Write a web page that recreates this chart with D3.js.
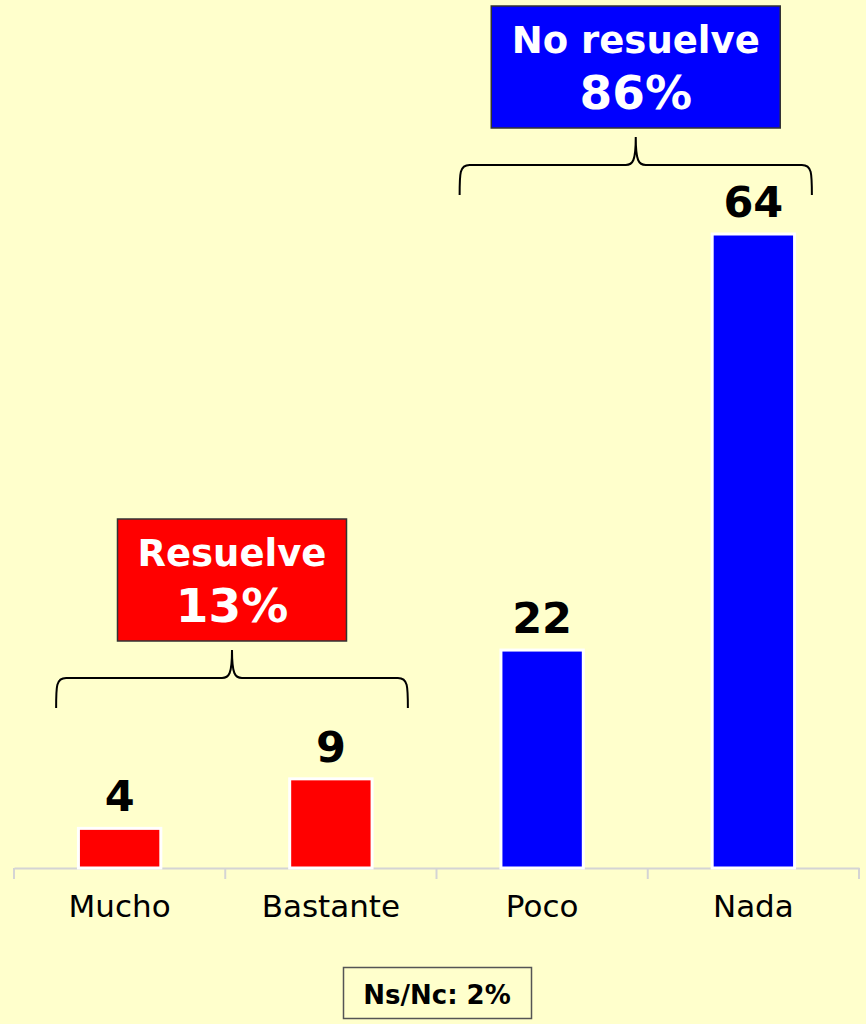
<!DOCTYPE html>
<html><head><meta charset="utf-8">
<script src="https://cdn.jsdelivr.net/npm/d3@7"></script>
<style>html,body{margin:0;padding:0;background:#ffffcc;}svg{display:block;font-family:"DejaVu Sans",sans-serif;}</style>
</head><body>
<script>
const categories = ["Mucho","Bastante","Poco","Nada"];
const values = [4, 9, 22, 64];
const colors = ["#ff0000","#ff0000","#0000ff","#0000ff"];
const groupTitles = ["Resuelve","No resuelve"];
const groupTotals = ["13%","86%"];
const groupColors = ["#ff0000","#0000ff"];
const groupMembers = [["Mucho","Bastante"],["Poco","Nada"]];
const footnote = "Ns/Nc: 2%";

const W = 866, H = 1024;
const svg = d3.select("body").append("svg").attr("width", W).attr("height", H);
svg.append("rect").attr("width", W).attr("height", H).attr("fill", "#ffffcc");

const x = d3.scaleBand().domain(categories).range([14, 859]).paddingInner(0.61).paddingOuter(0.305);
const xb = d3.scaleBand().domain(categories).range([14, 859]);
const y = d3.scaleLinear().domain([0, 64]).range([868, 234]);

// axis
const ax = svg.append("g").attr("transform", "translate(0,868)")
  .call(d3.axisBottom(xb).tickSize(0).tickPadding(0));
ax.select(".domain").attr("stroke", "#d4d4d4").attr("stroke-width", 2);
ax.selectAll(".tick text").remove();
const edges = categories.map(c => xb(c)).concat([xb.range()[1]]);
svg.append("g").selectAll("line").data(edges).join("line")
  .attr("x1", d => d).attr("x2", d => d).attr("y1", 868).attr("y2", 879)
  .attr("stroke", "#d4d4d4").attr("stroke-width", 2);

// category labels
svg.append("g").selectAll("text").data(categories).join("text")
  .attr("x", d => xb(d) + xb.bandwidth() / 2).attr("y", 917)
  .attr("text-anchor", "middle").attr("font-size", 31).attr("fill", "#000")
  .text(d => d);

// bars
svg.append("g").selectAll("rect").data(values).join("rect")
  .attr("x", (d, i) => x(categories[i])).attr("width", x.bandwidth())
  .attr("y", d => y(d)).attr("height", d => y(0) - y(d))
  .attr("fill", (d, i) => colors[i]).attr("stroke", "#ffffff").attr("stroke-width", 3);

// value labels
svg.append("g").selectAll("text").data(values).join("text")
  .attr("x", (d, i) => x(categories[i]) + x.bandwidth() / 2).attr("y", d => y(d) - 17)
  .attr("text-anchor", "middle").attr("font-size", 43).attr("font-weight", "bold").attr("fill", "#000")
  .text(d => d);

// braces + group boxes
const braceSpec = [
  {l: -63.5, r: 77, top: 678, boxW: 229},
  {l: -82.5, r: 58.5, top: 165, boxW: 289}
];
groupMembers.forEach((m, gi) => {
  const s = braceSpec[gi];
  const c1 = xb(m[0]) + xb.bandwidth() / 2, c2 = xb(m[m.length - 1]) + xb.bandwidth() / 2;
  const x0 = c1 + s.l, x1 = c2 + s.r, mid = (x0 + x1) / 2, t = s.top;
  const p = `M${x0},${t+30} C${x0},${t+8} ${x0},${t} ${x0+10},${t} L${mid-10},${t} C${mid-3},${t} ${mid},${t-4} ${mid},${t-28}` +
            ` M${mid},${t-28} C${mid},${t-4} ${mid+3},${t} ${mid+10},${t} L${x1-10},${t} C${x1},${t} ${x1},${t+8} ${x1},${t+30}`;
  svg.append("path").attr("d", p).attr("fill", "none").attr("stroke", "#000").attr("stroke-width", 2);
  const bx = mid - s.boxW / 2, by = t - 159;
  svg.append("rect").attr("x", bx).attr("y", by).attr("width", s.boxW).attr("height", 122)
    .attr("fill", groupColors[gi]).attr("stroke", "#333").attr("stroke-width", 1.5);
  svg.append("text").attr("x", mid).attr("y", by + 47).attr("text-anchor", "middle")
    .attr("font-size", 37).attr("font-weight", "bold").attr("fill", "#fff").text(groupTitles[gi]);
  svg.append("text").attr("x", mid).attr("y", by + 103).attr("text-anchor", "middle")
    .attr("font-size", 47).attr("font-weight", "bold").attr("fill", "#fff").text(groupTotals[gi]);
});

// footnote
svg.append("rect").attr("x", 343.5).attr("y", 967.5).attr("width", 188).attr("height", 51)
  .attr("fill", "#ffffcc").attr("stroke", "#555").attr("stroke-width", 1.5);
svg.append("text").attr("x", 437).attr("y", 1004).attr("text-anchor", "middle")
  .attr("font-size", 26).attr("font-weight", "bold").attr("fill", "#000").text(footnote);
</script>
</body></html>
